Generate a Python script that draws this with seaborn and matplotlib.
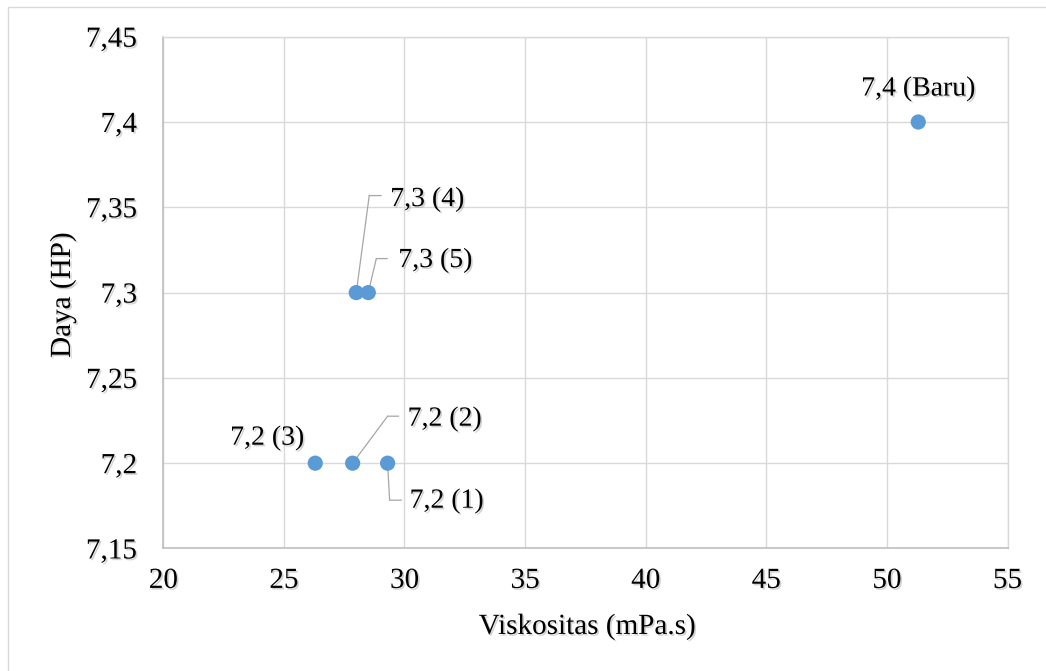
import matplotlib
matplotlib.use("Agg")
import matplotlib.pyplot as plt
import matplotlib.patheffects as pe
from matplotlib.patches import Rectangle
from matplotlib.transforms import offset_copy
import seaborn as sns
import pandas as pd

# Viscosity (mPa.s) and power (HP) per oil sample
labels = ["7,4 (Baru)", "7,3 (4)", "7,3 (5)", "7,2 (3)", "7,2 (2)", "7,2 (1)"]
viskositas = [51.3, 28.0, 28.5, 26.3, 27.85, 29.3]
daya = [7.4, 7.3, 7.3, 7.2, 7.2, 7.2]

x_ticks = [20, 25, 30, 35, 40, 45, 50, 55]
y_ticks = [7.15, 7.2, 7.25, 7.3, 7.35, 7.4, 7.45]

df = pd.DataFrame({"Viskositas": viskositas, "Daya": daya, "label": labels})

sns.set_theme(style="whitegrid")
plt.rcParams["font.family"] = ["Liberation Serif", "DejaVu Serif"]

shadow = [pe.SimplePatchShadow(offset=(1.2, -1.2), shadow_rgbFace="#808080", alpha=0.35), pe.Normal()]
FS = 21
FS_LABEL = 20

fig = plt.figure(figsize=(10.46, 6.71), dpi=100)
ax = fig.add_axes([0.1561, 0.1826, 0.8071, 0.7627])

sns.scatterplot(data=df, x="Viskositas", y="Daya", ax=ax, s=120, color="#5B9BD5",
                edgecolor="none", linewidth=0, zorder=3, legend=False)

ax.set_xlim(20, 55)
ax.set_ylim(7.15, 7.45)
ax.set_xticks(x_ticks)
ax.set_yticks(y_ticks)
ax.set_xticklabels([str(v) for v in x_ticks])
ax.set_yticklabels([f"{v:g}".replace(".", ",") for v in y_ticks])
ax.grid(True, color="#D9D9D9", linewidth=1.0)
ax.set_axisbelow(True)
ax.tick_params(axis="both", length=0, labelsize=FS, colors="black")
ax.tick_params(axis="y", pad=19)
ax.tick_params(axis="x", pad=14)
for lab in ax.get_xticklabels() + ax.get_yticklabels():
    lab.set_path_effects(shadow)

for side in ["top", "right"]:
    ax.spines[side].set_color("#D9D9D9")
    ax.spines[side].set_linewidth(1.0)
for side in ["left", "bottom"]:
    ax.spines[side].set_color("#BFBFBF")
    ax.spines[side].set_linewidth(1.2)

ax.set_xlabel("Viskositas (mPa.s)", fontsize=FS, color="black", path_effects=shadow)
ax.set_ylabel("Daya (HP)", fontsize=FS, color="black", path_effects=shadow)
ax.xaxis.set_label_coords(0.502, -0.153)
ax.xaxis.label.set_va("center")
ax.yaxis.set_label_coords(-0.119, 0.495)
ax.yaxis.label.set_va("center")

# Data labels: text offset (pixels) and optional leader line (corner, end)
label_pos = {
    "7,4 (Baru)": ((0, 33), "center", None),
    "7,3 (4)": ((34, 93), "left", ((13, 97), (25, 97))),
    "7,3 (5)": ((30, 32), "left", ((8, 34), (19, 34))),
    "7,2 (3)": ((-48, 25), "center", None),
    "7,2 (2)": ((55, 44), "left", ((35, 47), (46, 47))),
    "7,2 (1)": ((22, -38), "left", ((2, -37), (14, -37))),
}
leader_kw = dict(arrowstyle="-", color="#A6A6A6", lw=0.9, shrinkA=0, shrinkB=0)

for _, row in df.iterrows():
    (dx, dy), ha, leader = label_pos[row["label"]]
    ax.annotate(row["label"], xy=(row["Viskositas"], row["Daya"]), xytext=(dx, dy),
                textcoords="offset pixels", ha=ha, va="center", fontsize=FS_LABEL,
                color="black", path_effects=shadow, zorder=4)
    if leader is not None:
        (cx, cy), (ex, ey) = leader
        ax.annotate("", xy=(row["Viskositas"], row["Daya"]), xytext=(cx, cy),
                    textcoords="offset pixels", arrowprops=leader_kw, zorder=2)
        ax.annotate("", xy=(row["Viskositas"], row["Daya"]),
                    xycoords=offset_copy(ax.transData, fig=fig, x=cx, y=cy, units="dots"),
                    xytext=(ex - cx, ey - cy), textcoords="offset pixels",
                    arrowprops=leader_kw, zorder=2)

# Chart-area frame
fig.add_artist(Rectangle((8 / 1046, -0.1), 1.2, 0.1 + (1 - 7 / 671),
                         transform=fig.transFigure, fill=False,
                         edgecolor="#D9D9D9", linewidth=1.0))

fig.savefig("out.png", dpi=100)
